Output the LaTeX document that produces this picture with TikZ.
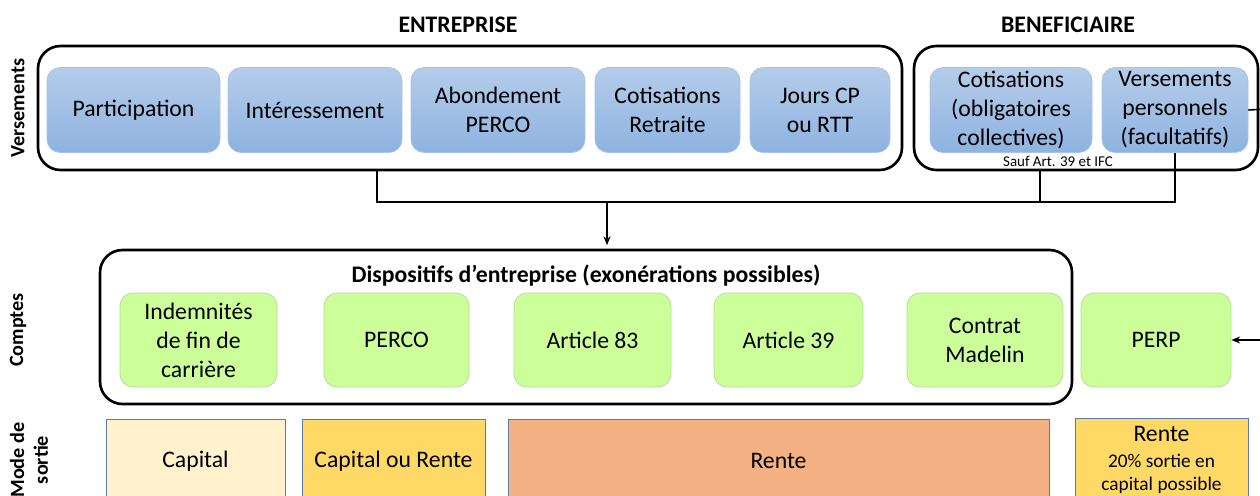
\documentclass[tikz,border=0pt]{standalone}
\usepackage{fontspec}
\setmainfont{Carlito}
\usetikzlibrary{arrows.meta}

\definecolor{bluetop}{HTML}{B5CCEA}
\definecolor{bluebot}{HTML}{8EB3E0}
\definecolor{blueline}{HTML}{A9C3E5}
\definecolor{greenfill}{HTML}{CCFF99}
\definecolor{greenline}{HTML}{B3DB95}
\definecolor{exitline}{HTML}{5A7BA8}
\definecolor{capcol}{HTML}{FFF2CC}
\definecolor{mixcol}{HTML}{FFD966}
\definecolor{rentecol}{HTML}{F4B183}

\begin{document}
\begin{tikzpicture}[
	font=\fontsize{13.5}{16.5}\selectfont,
	bluebox/.style={draw=blueline, rounded corners=0.26cm, top color=bluetop, bottom color=bluebot, minimum height=1.7cm, align=center, inner sep=1pt},
	greenbox/.style={draw=greenline, fill=greenfill, rounded corners=0.26cm, minimum height=1.88cm, align=center, inner sep=1pt},
	groupbox/.style={draw, line width=1.5pt, rounded corners=0.45cm},
	exitbox/.style={draw=exitline, minimum height=1.68cm, align=center, inner sep=1pt},
	rowtitle/.style={font=\fontsize{11.5}{13.5}\selectfont\bfseries, rotate=90, align=center},
	link/.style={line width=0.9pt}
]
	\useasboundingbox (0,0) rectangle (25.2,-9.9);

	% Titles
	\node[font=\fontsize{13.5}{16}\selectfont\bfseries] (tent) at (9.16,-0.5) {ENTREPRISE};
	\node[font=\fontsize{13.5}{16}\selectfont\bfseries] (tben) at (21.36,-0.5) {BENEFICIAIRE};
	\node[rowtitle] (rvers) at (0.36,-2.16) {Versements};
	\node[rowtitle] (rcomp) at (0.36,-6.6) {Comptes};
	\node[rowtitle] (rmode) at (0.58,-9.2) {Mode de\\sortie};

	% Groups
	\node[groupbox, minimum width=17.28cm, minimum height=2.48cm] (ent) at (9.4,-2.16) {};
	\node[groupbox, minimum width=6.88cm, minimum height=2.48cm] (ben) at (21.72,-2.16) {};
	\node[groupbox, minimum width=19.44cm, minimum height=3.08cm] (disp) at (11.72,-6.54) {};
	\node[font=\fontsize{13.5}{16}\selectfont\bfseries] (tdisp) at (11.72,-5.52) {Dispositifs d’entreprise (exonérations possibles)};

	% Versements
	\foreach \name/\x/\w/\txt in {part/2.67/3.46/{Participation}, inte/6.3/3.48/{Intéressement},
		abon/9.96/3.48/{Abondement\\PERCO}, cotr/13.35/2.9/{Cotisations\\Retraite},
		jours/16.4/2.8/{Jours CP\\ou RTT}, coto/20.22/3.24/{Cotisations\\(obligatoires\\collectives)},
		vp/23.5/2.92/{Versements\\personnels\\(facultatifs)}} {
		\node[bluebox, minimum width=\w cm] (\name) at (\x,-2.2) {\txt};
	}
	\node[font=\fontsize{8.5}{10}\selectfont] (sauf) at (21.16,-3.22) {Sauf Art. 39 et IFC};

	% Comptes
	\foreach \name/\x/\w/\txt in {ifc/3.97/3.14/{Indemnités\\de fin de\\carrière}, perco/7.93/2.9/{PERCO},
		a83/11.85/3.14/{Article 83}, a39/15.77/2.98/{Article 39},
		madelin/19.7/3.12/{Contrat\\Madelin}, perp/23.12/3.0/{PERP}} {
		\node[greenbox, minimum width=\w cm] (\name) at (\x,-6.8) {\txt};
	}

	% Mode de sortie
	\node[exitbox, fill=capcol, minimum width=3.58cm] (scap) at (3.91,-9.22) {Capital};
	\node[exitbox, fill=mixcol, minimum width=3.66cm] (smix) at (7.87,-9.22) {Capital ou Rente};
	\node[exitbox, fill=rentecol, minimum width=10.82cm] (srente) at (15.57,-9.22) {Rente};
	\node[exitbox, fill=mixcol, minimum width=3.46cm, font=\fontsize{11}{13.4}\selectfont] (sperp) at (23.23,-9.2) {{\fontsize{13.5}{16}\selectfont Rente}\\[1.2pt]20\% sortie en\\capital possible};

	% Links
	\coordinate (j1) at (7.54,-4.04);
	\coordinate (j2) at (23.5,-4.04);
	\coordinate (jmid) at (12.14,-4.04);
	\coordinate (jben) at (20.8,-4.04);
	\coordinate (edge) at (25.5,-2.17);
	\draw[link] (j1 |- ent.south) -- (j1) -- (j2) -- (vp.south);
	\draw[link] (jben |- ben.south) -- (jben);
	\draw[link, -{Stealth[length=5pt, width=4pt]}] (jmid) -- ([yshift=2pt]disp.north -| jmid);
	\draw[link, -{Stealth[length=5pt, width=4pt]}] (vp.east) -- (edge) -- (edge |- perp) -- (perp.east);
\end{tikzpicture}
\end{document}
